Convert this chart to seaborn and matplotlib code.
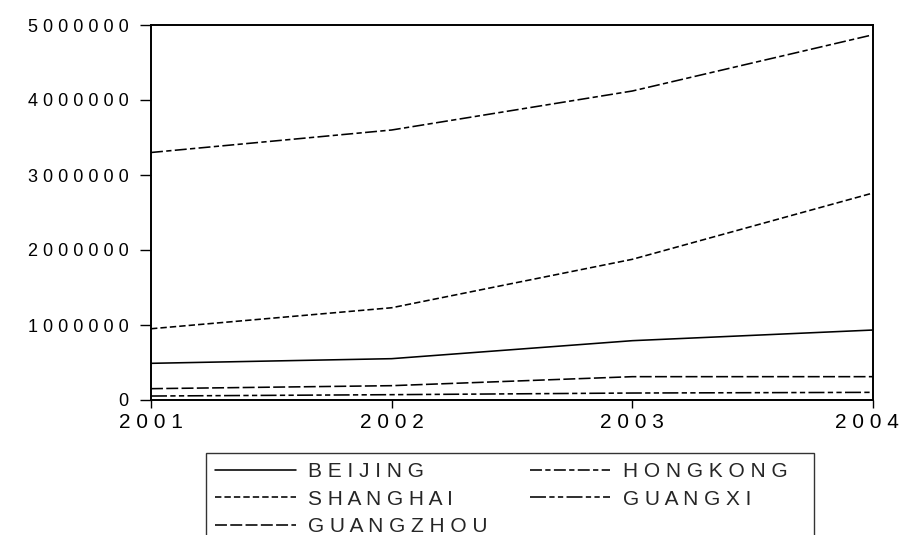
import pandas as pd
import matplotlib
matplotlib.use('Agg')
import matplotlib.pyplot as plt
import seaborn as sns
from matplotlib.ticker import FixedLocator, FuncFormatter
from matplotlib.transforms import ScaledTranslation

# Datos (valores anuales)
years = [2001, 2002, 2003, 2004]
beijing = [489000, 551000, 791000, 933000]
hongkong = [3300000, 3600000, 4120000, 4870000]
shanghai = [950000, 1230000, 1876000, 2760000]
guangxi = [53000, 71000, 93000, 102000]
guangzhou = [151000, 191000, 311000, 311000]

cities = ['BEIJING', 'SHANGHAI', 'GUANGZHOU', 'HONGKONG', 'GUANGXI']
series = [beijing, shanghai, guangzhou, hongkong, guangxi]
y_ticks = [0, 1000000, 2000000, 3000000, 4000000, 5000000]

# Configuracion general
sns.set_theme(style='white')
plt.rcParams['font.family'] = ['Liberation Sans', 'DejaVu Sans']
plt.rcParams['font.size'] = 13
plt.rcParams['lines.scale_dashes'] = False


def espaciar(texto, sep=' '):
    # imita el texto espaciado del original
    return sep.join(str(texto))


def main():
    df = pd.DataFrame({
        'year': years * len(cities),
        'value': [v for s in series for v in s],
        'city': [c for c in cities for _ in years],
    })

    dashes = {
        'BEIJING': '',
        'SHANGHAI': (4.6, 2.2),
        'GUANGZHOU': (8.6, 2.4),
        'HONGKONG': (8.6, 2.4, 3.8, 2.4),
        'GUANGXI': (11.5, 2.4, 3.8, 2.4, 3.8, 2.4),
    }

    fig = plt.figure(figsize=(9.01, 5.35), dpi=100)
    ax = fig.add_axes([151 / 901, 1 - 400 / 535, (873 - 151) / 901, (400 - 25) / 535])

    sns.lineplot(data=df, x='year', y='value', hue='city', style='city',
                 hue_order=cities, style_order=cities,
                 palette=['black'] * len(cities), dashes=dashes,
                 linewidth=1.15, legend=False, ax=ax)

    ax.set_xlim(2001, 2004)
    ax.set_ylim(0, 5000000)
    ax.xaxis.set_major_locator(FixedLocator(years))
    ax.yaxis.set_major_locator(FixedLocator(y_ticks))
    ax.xaxis.set_major_formatter(FuncFormatter(lambda v, p: espaciar(int(round(v)))))
    ax.yaxis.set_major_formatter(FuncFormatter(lambda v, p: espaciar(int(round(v)))))
    ax.set_xlabel('')
    ax.set_ylabel('')

    for spine in ax.spines.values():
        spine.set_color('black')
        spine.set_linewidth(1.4)
    ax.tick_params(axis='y', direction='out', length=8, width=1, pad=8,
                   left=True, colors='black', labelsize=13)
    ax.tick_params(axis='x', direction='out', length=6, width=1, pad=3,
                   bottom=True, colors='black', labelsize=15)

    # el ultimo año se corre un poco a la izquierda para que quepa
    etiquetas = ax.get_xticklabels()
    desplazar = ScaledTranslation(-6 / 100, 0, fig.dpi_scale_trans)
    etiquetas[-1].set_transform(etiquetas[-1].get_transform() + desplazar)

    handles = ax.get_lines()[:len(cities)]
    nombres = [espaciar(c) for c in cities]
    nombres[3] = nombres[3] + '   '
    leg = fig.legend(handles, nombres, ncol=2,
                     loc='upper left', bbox_to_anchor=(206 / 901, 1 - 453 / 535),
                     bbox_transform=fig.transFigure, frameon=True, fancybox=False,
                     edgecolor='black', handlelength=3.85, handletextpad=0.62,
                     columnspacing=2.0, labelspacing=0.4, borderpad=0.45,
                     borderaxespad=0, fontsize=15)
    leg.get_frame().set_linewidth(1.0)

    fig.savefig('out.png', dpi=100)


if __name__ == '__main__':
    main()
